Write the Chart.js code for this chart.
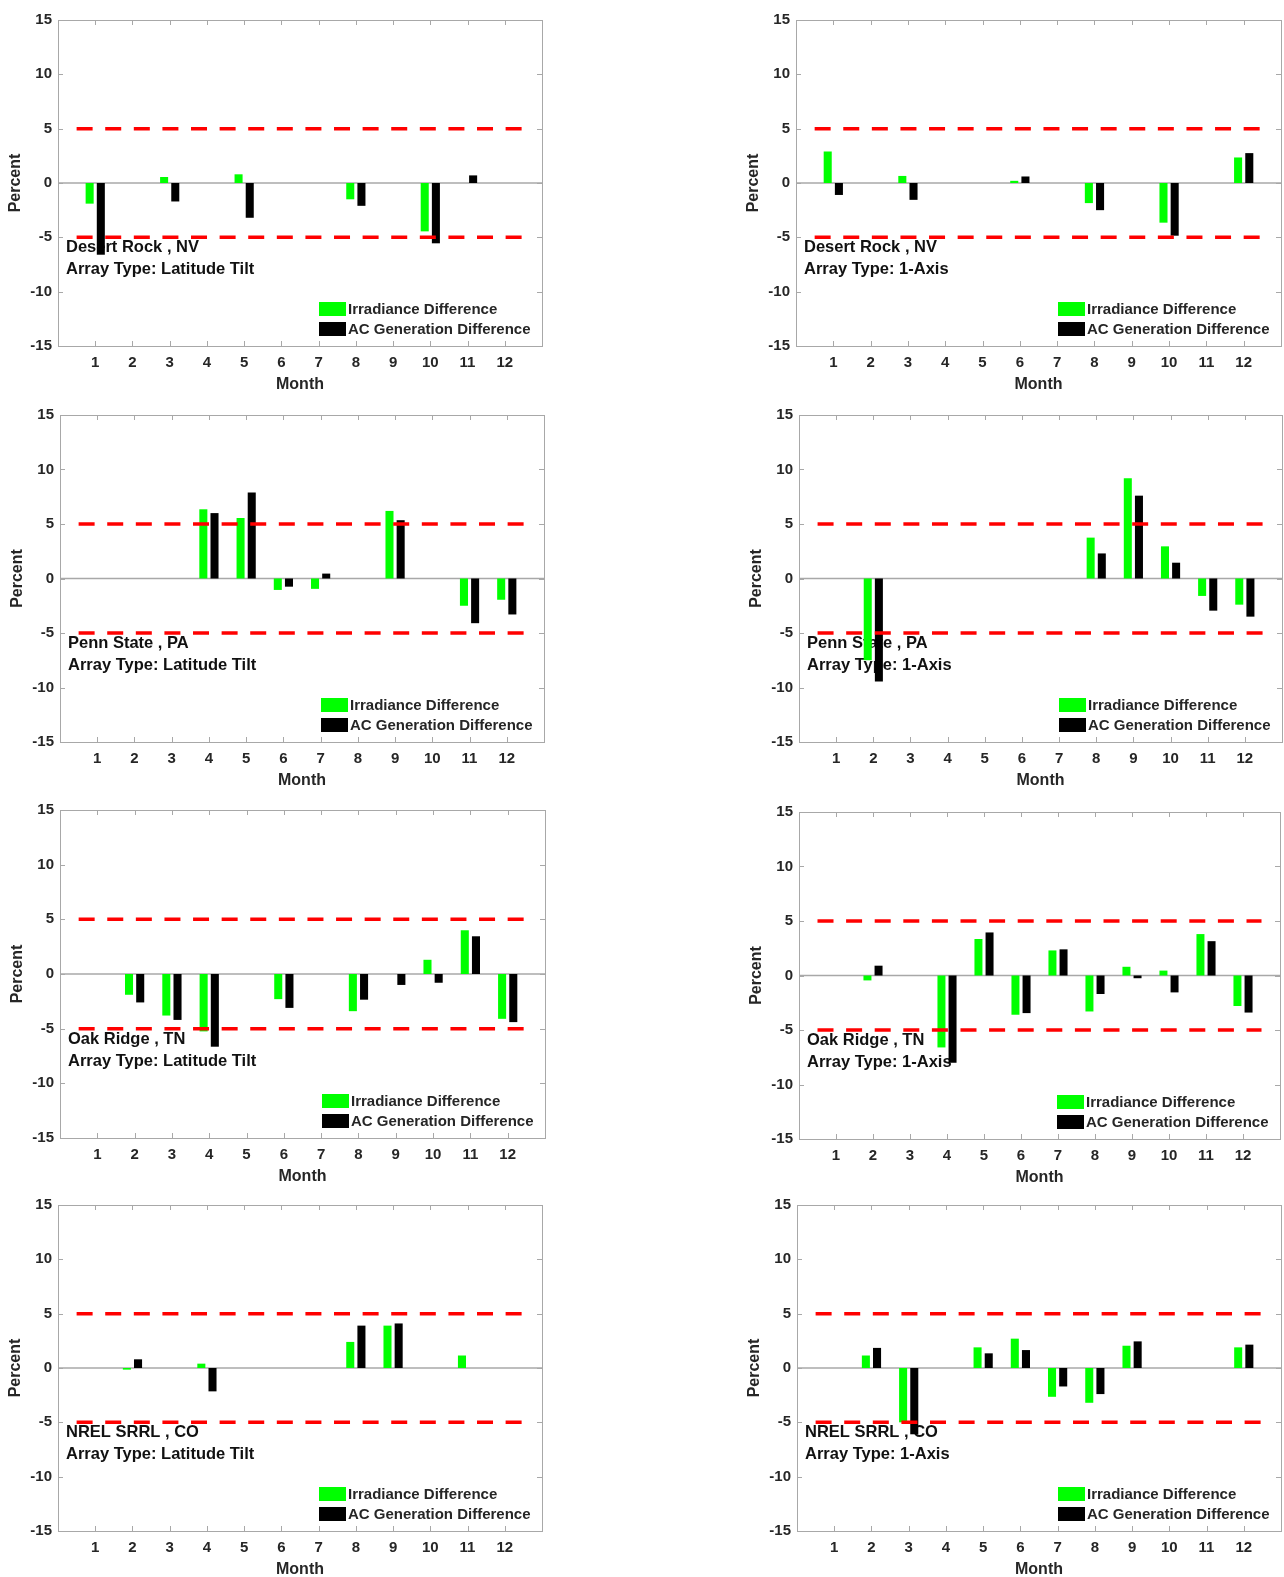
<!DOCTYPE html>
<html><head><meta charset="utf-8">
<script src="https://cdn.jsdelivr.net/npm/chart.js@4.4.0/dist/chart.umd.min.js"></script>
<style>
html,body{margin:0;padding:0;background:#fff;}
body{width:1284px;height:1577px;position:relative;overflow:hidden;}
.panel{position:absolute;}
</style></head><body>
<script>
// ---------- data ----------
const months = [1,2,3,4,5,6,7,8,9,10,11,12];
const yLimits = [-15, 15];
const yStep = 5;
const seriesLabels = ['Irradiance Difference', 'AC Generation Difference'];
const thresholds = [5, -5];
const thresholdSpan = [0.5, 12.5];
const siteNames = ['Desert Rock , NV', 'Penn State , PA', 'Oak Ridge , TN', 'NREL SRRL , CO'];
const arrayTypes = ['Latitude Tilt', '1-Axis'];

const desertRockLatIrr  = [-1.9, 0, 0.55, 0, 0.8, 0, 0, -1.5, 0, -4.45, 0, 0];
const desertRockLatAC   = [-6.6, 0, -1.7, 0, -3.2, 0, 0, -2.1, 0, -5.55, 0.7, 0];
const desertRockAxisIrr = [2.9, 0, 0.65, 0, 0, 0.2, 0, -1.85, 0, -3.65, 0, 2.35];
const desertRockAxisAC  = [-1.1, 0, -1.55, 0, 0, 0.6, 0, -2.5, 0, -4.85, 0, 2.75];
const pennStateLatIrr   = [0, 0, 0, 6.35, 5.55, -1.05, -0.95, 0, 6.2, 0, -2.5, -1.95];
const pennStateLatAC    = [0, 0, 0, 6.0, 7.9, -0.75, 0.45, 0, 5.35, 0, -4.1, -3.3];
const pennStateAxisIrr  = [0, -7.5, 0, 0, 0, 0, 0, 3.75, 9.2, 2.95, -1.6, -2.4];
const pennStateAxisAC   = [0, -9.45, 0, 0, 0, 0, 0, 2.3, 7.6, 1.45, -2.95, -3.5];
const oakRidgeLatIrr    = [0, -1.9, -3.8, -5.25, 0, -2.3, 0, -3.4, 0, 1.3, 4.0, -4.1];
const oakRidgeLatAC     = [0, -2.6, -4.2, -6.65, 0, -3.1, 0, -2.35, -1.0, -0.8, 3.45, -4.4];
const oakRidgeAxisIrr   = [0, -0.45, 0, -6.6, 3.35, -3.6, 2.3, -3.3, 0.8, 0.45, 3.8, -2.8];
const oakRidgeAxisAC    = [0, 0.9, 0, -8.0, 3.95, -3.45, 2.4, -1.7, -0.25, -1.55, 3.15, -3.4];
const nrelLatIrr        = [0, -0.15, 0, 0.4, 0, 0, 0, 2.4, 3.9, 0, 1.15, 0];
const nrelLatAC         = [0, 0.8, 0, -2.15, 0, 0, 0, 3.9, 4.1, 0, 0, 0];
const nrelAxisIrr       = [0, 1.15, -5.0, 0, 1.9, 2.7, -2.65, -3.2, 2.05, 0, 0, 1.9];
const nrelAxisAC        = [0, 1.85, -6.1, 0, 1.35, 1.65, -1.7, -2.4, 2.45, 0, 0, 2.15];

// ---------- panel layout (plot-area boxes, px) ----------
const panels = [
  {site:0, type:0, irr:desertRockLatIrr,  ac:desertRockLatAC,  box:[58, 17, 542, 346]},
  {site:0, type:1, irr:desertRockAxisIrr, ac:desertRockAxisAC, box:[796, 17, 1281, 346]},
  {site:1, type:0, irr:pennStateLatIrr,   ac:pennStateLatAC,   box:[60, 412, 544, 742]},
  {site:1, type:1, irr:pennStateAxisIrr,  ac:pennStateAxisAC,  box:[799, 412, 1282, 742]},
  {site:2, type:0, irr:oakRidgeLatIrr,    ac:oakRidgeLatAC,    box:[60, 807, 545, 1138]},
  {site:2, type:1, irr:oakRidgeAxisIrr,   ac:oakRidgeAxisAC,   box:[799, 809, 1280, 1139]},
  {site:3, type:0, irr:nrelLatIrr,        ac:nrelLatAC,        box:[58, 1202, 542, 1531]},
  {site:3, type:1, irr:nrelAxisIrr,       ac:nrelAxisAC,       box:[797, 1202, 1281, 1531]}
];

const FONT = '"Liberation Sans", Arial, sans-serif';
const TXT = '#262626';
const YW = 56, XH = 50, PT = 12, PR = 12;

const decor = {
  id: 'decor',
  beforeDatasetsDraw(chart, args, opts) {
    const {ctx, chartArea: a, scales: {y}} = chart;
    ctx.save();
    const y0 = y.getPixelForValue(0);
    ctx.strokeStyle = '#a8a8a8'; ctx.lineWidth = 1.5;
    ctx.beginPath(); ctx.moveTo(a.left, y0); ctx.lineTo(a.right, y0); ctx.stroke();
    ctx.fillStyle = '#111'; ctx.font = 'bold 16.5px ' + FONT;
    ctx.textBaseline = 'middle'; ctx.textAlign = 'left';
    ctx.fillText(opts.site, a.left + 8, a.bottom - 99);
    ctx.fillText('Array Type: ' + opts.arrayType, a.left + 8, a.bottom - 77);
    ctx.restore();
  },
  afterDatasetsDraw(chart, args, opts) {
    const {ctx, chartArea: a, scales: {x, y}} = chart;
    ctx.save();
    // legend
    const bars = chart.data.datasets.filter(d => !d.type);
    const px = a.right - 223;
    const rows = [a.bottom - 37, a.bottom - 17];
    ctx.font = 'bold 15px ' + FONT; ctx.textBaseline = 'middle'; ctx.textAlign = 'left';
    bars.forEach((d, i) => {
      ctx.fillStyle = d.backgroundColor;
      ctx.fillRect(px, rows[i] - 7, 27, 14);
      ctx.fillStyle = TXT;
      ctx.fillText(d.label, px + 29, rows[i] + 1);
    });
    // box and inward ticks
    ctx.strokeStyle = '#a8a8a8'; ctx.lineWidth = 1;
    ctx.strokeRect(Math.round(a.left) + 0.5, Math.round(a.top) + 0.5, Math.round(a.right - a.left), Math.round(a.bottom - a.top));
    ctx.beginPath();
    months.forEach(m => {
      const xp = Math.round(x.getPixelForValue(m)) + 0.5;
      ctx.moveTo(xp, a.top); ctx.lineTo(xp, a.top + 5);
      ctx.moveTo(xp, a.bottom); ctx.lineTo(xp, a.bottom - 5);
    });
    for (let v = yLimits[0]; v <= yLimits[1]; v += yStep) {
      const yp = Math.round(y.getPixelForValue(v)) + 0.5;
      ctx.moveTo(a.left, yp); ctx.lineTo(a.left + 5, yp);
      ctx.moveTo(a.right, yp); ctx.lineTo(a.right - 5, yp);
    }
    ctx.stroke();
    ctx.restore();
  }
};

panels.forEach(p => {
  const [L, T, R, B] = p.box;
  const w = (R - L) + YW + PR, h = (B - T) + PT + XH;
  const div = document.createElement('div');
  div.className = 'panel';
  div.style.left = (L - YW) + 'px'; div.style.top = (T - PT) + 'px';
  div.style.width = w + 'px'; div.style.height = h + 'px';
  const cv = document.createElement('canvas');
  cv.width = w; cv.height = h; cv.style.width = w + 'px'; cv.style.height = h + 'px';
  div.appendChild(cv); document.body.appendChild(div);

  const barOpts = {categoryPercentage: 0.6, barPercentage: 0.72, borderWidth: 0, order: 2};
  const lineOpts = {type: 'line', borderColor: '#ff0000', borderWidth: 3.5, borderDash: [16, 12.6],
                    pointRadius: 0, fill: false, order: 0, borderCapStyle: 'butt'};
  new Chart(cv, {
    type: 'bar',
    data: {
      datasets: [
        Object.assign({label: seriesLabels[0], backgroundColor: '#00ff00',
          data: months.map((m, i) => ({x: m, y: p.irr[i]}))}, barOpts),
        Object.assign({label: seriesLabels[1], backgroundColor: '#000000',
          data: months.map((m, i) => ({x: m, y: p.ac[i]}))}, barOpts),
        Object.assign({label: 'upper', data: thresholdSpan.map(v => ({x: v, y: thresholds[0]}))}, lineOpts),
        Object.assign({label: 'lower', data: thresholdSpan.map(v => ({x: v, y: thresholds[1]}))}, lineOpts)
      ]
    },
    options: {
      responsive: false, animation: false, devicePixelRatio: 1,
      layout: {padding: {left: 0, top: PT, right: PR, bottom: 0}},
      plugins: {
        legend: {display: false}, tooltip: {enabled: false},
        decor: {site: siteNames[p.site], arrayType: arrayTypes[p.type]}
      },
      scales: {
        x: {
          type: 'linear', min: 0, max: months.length + 1, offset: false,
          grid: {display: false, drawTicks: false}, border: {display: false},
          ticks: {stepSize: 1, autoSkip: false, maxRotation: 0, padding: 8, color: TXT,
                  font: {family: FONT, size: 15, weight: 'bold'},
                  callback: v => months.includes(v) ? String(v) : ''},
          title: {display: true, text: 'Month', color: TXT, padding: {top: 0, bottom: 2},
                  font: {family: FONT, size: 16, weight: 'bold'}},
          afterFit: s => { s.height = XH; }
        },
        y: {
          min: yLimits[0], max: yLimits[1],
          grid: {display: false, drawTicks: false}, border: {display: false},
          ticks: {stepSize: yStep, padding: 6, color: TXT, font: {family: FONT, size: 15, weight: 'bold'}},
          title: {display: true, text: 'Percent', color: TXT, padding: {top: 4, bottom: 0},
                  font: {family: FONT, size: 16, weight: 'bold'}},
          afterFit: s => { s.width = YW; }
        }
      }
    },
    plugins: [decor]
  });
});
</script>
</body></html>
